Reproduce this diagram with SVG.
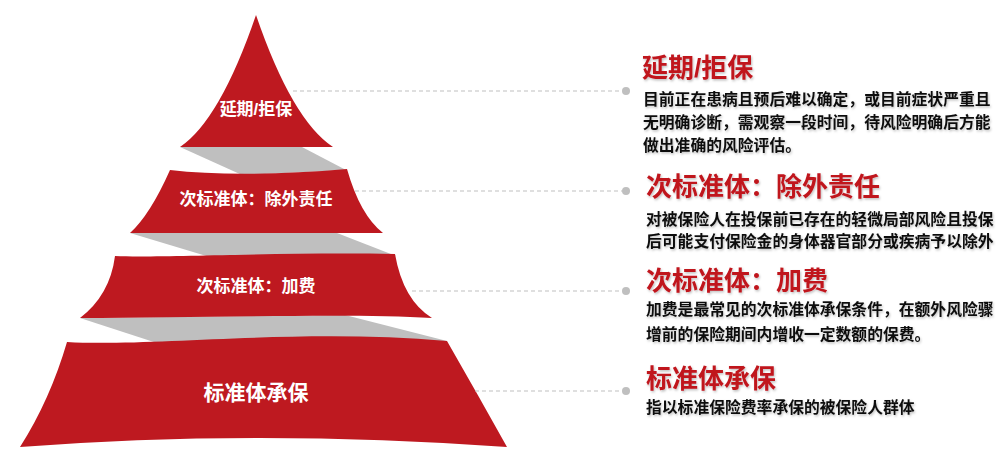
<svg xmlns="http://www.w3.org/2000/svg" width="998" height="450" viewBox="0 0 998 450">
<style>
.layer{fill:#BE1920}
.band{fill:#BFBFBF}
.lbl{fill:#FFFFFF;font-family:"Liberation Sans","Noto Sans CJK SC",sans-serif;font-weight:bold;text-anchor:middle}
.ttl{fill:#C0141E;font-family:"Liberation Sans","Noto Sans CJK SC",sans-serif;font-weight:bold;font-size:26px}
.dsc{fill:#111111;font-family:"Liberation Sans","Noto Sans CJK SC",sans-serif;font-weight:bold;font-size:15.8px}
.lead{stroke:#BFBFBF;stroke-width:1;stroke-dasharray:4 3;fill:none}
.dot{fill:#BFBFBF}
</style>
<defs>
<filter id="sh" x="-5%" y="-20%" width="110%" height="150%">
<feDropShadow dx="1" dy="1.5" stdDeviation="1" flood-color="#000" flood-opacity="0.25"/>
</filter>
</defs>
<g id="bands">
<path class="band" d="M180,147 L302,147 L346,170 L242,175 Z"/>
<path class="band" d="M130,233 L337,233 L396,256 L213,258 Z"/>
<path class="band" d="M80,318 L345,315 L447,341 L160,344 Z"/>
</g>
<g id="layer1">
<path class="layer" d="M256,15 Q292,120 333,147 L180,147 Q220,120 256,15 Z"/>
<text class="lbl" x="256" y="115" font-size="17">延期/拒保</text>
</g>
<g id="layer2">
<path class="layer" d="M170,170 Q240,178 347,169 Q360,215 383,233 L130,233 Q150,215 170,170 Z"/>
<text class="lbl" x="256" y="205" font-size="17">次标准体：除外责任</text>
</g>
<g id="layer3">
<path class="layer" d="M115,256 C160,258 280,252 395,254 Q403,300 432,318 C350,313 200,318 80,318 Q110,295 115,256 Z"/>
<text class="lbl" x="256" y="292" font-size="17">次标准体：加费</text>
</g>
<g id="layer4">
<path class="layer" d="M67,342 C150,347 300,328 447,341 Q478,395 507,447 Q256,429 20,447 Q50,400 67,342 Z"/>
<text class="lbl" x="256" y="400" font-size="21">标准体承保</text>
</g>
<g id="connectors">
<line class="lead" x1="293" y1="91" x2="622" y2="91"/>
<circle class="dot" cx="626" cy="91" r="4"/>
<line class="lead" x1="355" y1="191" x2="622" y2="191"/>
<circle class="dot" cx="626" cy="191" r="4"/>
<line class="lead" x1="412" y1="291" x2="622" y2="291"/>
<circle class="dot" cx="626" cy="291" r="4"/>
<line class="lead" x1="475" y1="391" x2="622" y2="391"/>
<circle class="dot" cx="626" cy="391" r="4"/>
</g>
<g id="desc1" filter="url(#sh)">
<text class="ttl" x="642" y="77">延期/拒保</text>
<text class="dsc" x="643" y="105">目前正在患病且预后难以确定，或目前症状严重且</text>
<text class="dsc" x="643" y="128">无明确诊断，需观察一段时间，待风险明确后方能</text>
<text class="dsc" x="643" y="151">做出准确的风险评估。</text>
</g>
<g id="desc2" filter="url(#sh)">
<text class="ttl" x="646" y="196">次标准体：除外责任</text>
<text class="dsc" x="646" y="225">对被保险人在投保前已存在的轻微局部风险且投保</text>
<text class="dsc" x="646" y="247">后可能支付保险金的身体器官部分或疾病予以除外</text>
</g>
<g id="desc3" filter="url(#sh)">
<text class="ttl" x="646" y="290">次标准体：加费</text>
<text class="dsc" x="646" y="315">加费是最常见的次标准体承保条件，在额外风险骤</text>
<text class="dsc" x="646" y="340">增前的保险期间内增收一定数额的保费。</text>
</g>
<g id="desc4" filter="url(#sh)">
<text class="ttl" x="646" y="388">标准体承保</text>
<text class="dsc" x="646" y="413">指以标准保险费率承保的被保险人群体</text>
</g>
</svg>
